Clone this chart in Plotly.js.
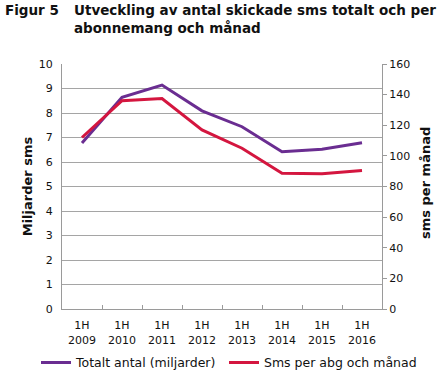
<!DOCTYPE html>
<html><head><meta charset="utf-8">
<script src="https://cdn.plot.ly/plotly-3.0.1.min.js"></script>
<style>html,body{margin:0;padding:0;background:#fff}#c{width:445px;height:382px}</style>
</head><body><div id="c"></div>
<script>
const categories = ["1H<br>2009","1H<br>2010","1H<br>2011","1H<br>2012","1H<br>2013","1H<br>2014","1H<br>2015","1H<br>2016"];
const totaltAntal = [6.78, 8.64, 9.14, 8.09, 7.44, 6.42, 6.52, 6.79];
const smsPerAbg = [112, 136, 137.5, 117, 105, 88.6, 88.3, 90.5];
const seriesNames = ["Totalt antal (miljarder)", "Sms per abg och månad"];
const leftTicks = [0,1,2,3,4,5,6,7,8,9,10];
const rightTicks = [0,20,40,60,80,100,120,140,160];

const font = "DejaVu Sans, Verdana, sans-serif";
const data = [
  {x: categories, y: totaltAntal, name: seriesNames[0], type: "scatter", mode: "lines",
   line: {color: "#6a2d91", width: 3}, yaxis: "y", legend: "legend"},
  {x: categories, y: smsPerAbg, name: seriesNames[1], type: "scatter", mode: "lines",
   line: {color: "#d4163f", width: 3}, yaxis: "y2", legend: "legend2"}
];
const legendCommon = {orientation: "h", xref: "container", yref: "container", xanchor: "left",
  y: 0.05, yanchor: "middle", font: {family: font, size: 12.5, color: "#111"}, itemwidth: 30,
  bgcolor: "rgba(0,0,0,0)"};
const layout = {
  width: 445, height: 382,
  margin: {l: 62, r: 63, t: 64, b: 73, autoexpand: false},
  paper_bgcolor: "#fff", plot_bgcolor: "#fff",
  font: {family: font, size: 11, color: "#111"},
  showlegend: true,
  legend: Object.assign({}, legendCommon, {x: 36 / 445}),
  legend2: Object.assign({}, legendCommon, {x: 224 / 445}),
  xaxis: {type: "category", range: [-0.5, 7.5], showline: true, linecolor: "#9a9a9a", linewidth: 1,
          ticks: "inside", tickson: "boundaries", ticklen: 4, tickcolor: "#9a9a9a",
          showgrid: false, zeroline: false, tickfont: {family: font, size: 11}, ticklabelstandoff: 6},
  yaxis: {range: [0, 10], tickvals: leftTicks, showline: true, linecolor: "#9a9a9a",
          gridcolor: "#a5a5a5", gridwidth: 1, zeroline: false, ticks: "", ticklabelstandoff: 6,
          tickfont: {family: font, size: 11},
          title: {text: "<b>Miljarder sms</b>", font: {family: font, size: 13}, standoff: 3}},
  yaxis2: {range: [0, 160], tickvals: rightTicks, overlaying: "y", side: "right",
           showline: true, linecolor: "#9a9a9a", showgrid: false, zeroline: false,
           ticks: "outside", ticklen: 4, tickcolor: "#9a9a9a",
           tickfont: {family: font, size: 11}},
  annotations: [
    {text: "<b>Figur 5</b>", xref: "paper", yref: "paper", x: -0.185, y: 1.261,
     xanchor: "left", yanchor: "top", showarrow: false, font: {family: font, size: 13.5, color: "#111"}},
    {text: "<b>Utveckling av antal skickade sms totalt och per<br>abonnemang och månad</b>",
     xref: "paper", yref: "paper", x: 0.03, y: 1.261, xanchor: "left", yanchor: "top", align: "left",
     showarrow: false, font: {family: font, size: 13.5, color: "#111"}},
    {text: "<b>sms per månad</b>", xref: "paper", yref: "paper", x: (425 - 62) / 320, y: (309 - 183) / 245,
     xanchor: "center", yanchor: "middle", textangle: -90, showarrow: false,
     font: {family: font, size: 13, color: "#111"}}
  ]
};
Plotly.newPlot("c", data, layout, {displayModeBar: false, staticPlot: true});
</script>
</body></html>
